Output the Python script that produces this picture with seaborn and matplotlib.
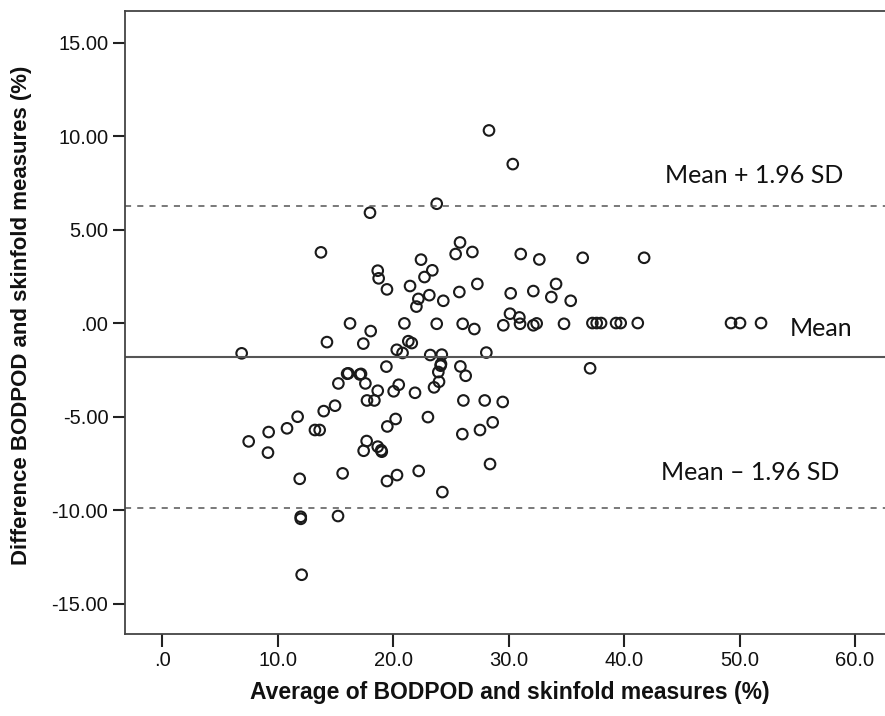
import numpy as np
import pandas as pd
import matplotlib
matplotlib.use("Agg")
import matplotlib.pyplot as plt
import seaborn as sns

# Bland-Altman: BODPOD vs skinfold body fat (%)
avg_pct = [
    # above zero
    17.98, 13.73, 18.65, 18.73, 19.45, 21.45, 22.4, 22.7, 22.17, 22.0,
    28.29, 30.35, 23.76, 25.78, 25.4, 26.85, 31.04, 32.65, 36.41, 23.38,
    27.28, 25.72, 23.12, 24.33, 30.17, 32.13, 34.1, 33.69, 35.37, 30.11,
    30.92, 41.73,
    # around zero
    16.25, 20.96, 23.76, 26.01, 29.53, 30.98, 32.13, 32.42, 34.79, 37.25,
    37.62, 38.0, 39.3, 39.7, 41.18, 49.26, 50.04, 51.86, 27.02, 18.04,
    # below zero
    14.25, 17.4, 21.3, 21.6, 6.86, 20.3, 20.8, 23.2, 24.2, 28.06,
    24.13, 24.1, 23.9, 25.81, 26.27, 23.96, 23.53, 37.05, 19.4, 16.0,
    16.1, 17.1, 17.2, 15.24, 17.58, 18.65, 20.03, 20.47, 21.88, 17.72,
    18.36, 14.95, 13.97, 11.71, 20.2, 19.48, 10.79, 9.2, 13.21, 13.62,
    7.47, 9.14, 17.69, 17.43, 18.65, 19.0, 18.95, 23.0, 26.07, 27.92,
    29.48, 28.61, 27.51, 25.98, 28.38, 11.89, 15.61, 19.45, 20.32, 22.2,
    24.25, 11.98, 11.98, 15.21, 12.06,
]
diff_pct = [
    5.90, 3.78, 2.80, 2.39, 1.80, 1.98, 3.39, 2.46, 1.29, 0.88,
    10.30, 8.50, 6.38, 4.31, 3.69, 3.80, 3.69, 3.40, 3.49, 2.82,
    2.09, 1.66, 1.49, 1.19, 1.59, 1.71, 2.09, 1.39, 1.19, 0.50,
    0.30, 3.49,
    -0.02, -0.02, -0.04, -0.04, -0.12, -0.04, -0.12, -0.02, -0.04, 0.0,
    0.0, 0.0, 0.0, 0.0, 0.0, 0.0, 0.0, 0.0, -0.32, -0.43,
    -1.02, -1.10, -0.97, -1.07, -1.62, -1.43, -1.60, -1.71, -1.69, -1.58,
    -2.19, -2.28, -2.62, -2.32, -2.82, -3.14, -3.44, -2.42, -2.33, -2.71,
    -2.69, -2.75, -2.72, -3.23, -3.23, -3.62, -3.65, -3.30, -3.73, -4.14,
    -4.14, -4.42, -4.71, -5.01, -5.13, -5.53, -5.63, -5.83, -5.72, -5.72,
    -6.33, -6.93, -6.31, -6.83, -6.61, -6.88, -6.80, -5.03, -4.14, -4.14,
    -4.22, -5.31, -5.72, -5.94, -7.54, -8.33, -8.04, -8.45, -8.13, -7.91,
    -9.04, -10.36, -10.47, -10.32, -13.46,
]

mean_diff = -1.80
upper_loa = 6.27
lower_loa = -9.87

x_ticks = [0, 10, 20, 30, 40, 50, 60]
x_tick_labels = [".0", "10.0", "20.0", "30.0", "40.0", "50.0", "60.0"]
y_ticks = [-15, -10, -5, 0, 5, 10, 15]
y_tick_labels = ["-15.00", "-10.00", "-5.00", ".00", "5.00", "10.00", "15.00"]

df = pd.DataFrame({"avg": avg_pct, "diff": diff_pct})

sns.set_style("white")
plt.rcParams["font.family"] = ["Liberation Sans", "DejaVu Sans"]

fig = plt.figure(figsize=(8.85, 7.16), dpi=100)
ax = fig.add_axes([0.1412, 0.1145, 0.8588, 0.8697])

sns.scatterplot(data=df, x="avg", y="diff", ax=ax, marker="o", s=58,
                facecolors="none", edgecolor="#1a1a1a", linewidth=1.5,
                legend=False)

ax.axhline(mean_diff, color="#555555", lw=1.5, zorder=1)
ax.axhline(upper_loa, color="#555555", lw=1.1, ls=(0, (4, 4)), zorder=1)
ax.axhline(lower_loa, color="#555555", lw=1.1, ls=(0, (4, 4)), zorder=1)

ann_font = dict(family=["Lato", "DejaVu Sans"], fontsize=18, color="#111111")
ax.text(51.3, 7.91, "Mean + 1.96 SD", ha="center", va="center", **ann_font)
ax.text(57.1, -0.27, "Mean", ha="center", va="center", **ann_font)
ax.text(50.9, -7.97, "Mean \u2013 1.96 SD", ha="center", va="center", **ann_font)

ax.set_xlim(-3.25, 62.6)
ax.set_ylim(-16.63, 16.67)
ax.set_xticks(x_ticks)
ax.set_xticklabels(x_tick_labels)
ax.set_yticks(y_ticks)
ax.set_yticklabels(y_tick_labels)
ax.tick_params(direction="out", length=9, width=1.5, color="#222222",
               labelsize=14.5, labelcolor="#111111", pad=3,
               bottom=True, left=True)

for side in ["left", "bottom", "top"]:
    ax.spines[side].set_color("#444444")
    ax.spines[side].set_linewidth(1.3)
ax.spines["right"].set_visible(False)

ax.set_xlabel("Average of BODPOD and skinfold measures (%)",
              fontsize=16.5, fontweight="bold", color="#111111")
ax.set_ylabel("Difference BODPOD and skinfold measures (%)",
              fontsize=16, fontweight="bold", color="#111111")
ax.xaxis.set_label_coords(0.507, -0.076)
ax.yaxis.set_label_coords(-0.122, 0.512)

fig.savefig("out.png", dpi=100)
